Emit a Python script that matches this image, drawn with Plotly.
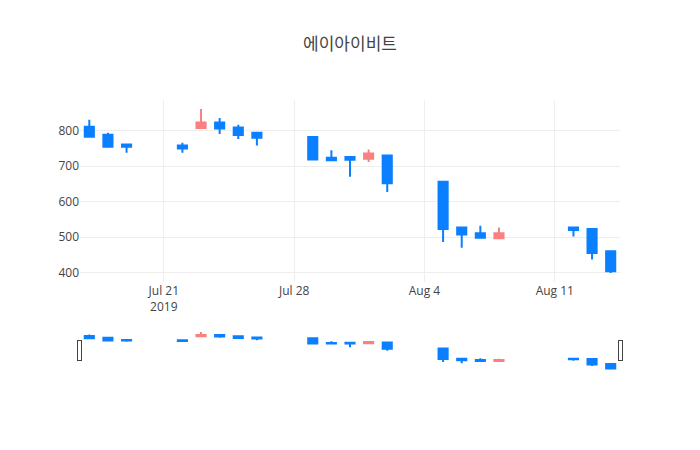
import plotly.graph_objects as go

dates = ["2019-07-17", "2019-07-18", "2019-07-19", "2019-07-22", "2019-07-23",
         "2019-07-24", "2019-07-25", "2019-07-26", "2019-07-29", "2019-07-30",
         "2019-07-31", "2019-08-01", "2019-08-02", "2019-08-05", "2019-08-06",
         "2019-08-07", "2019-08-08", "2019-08-12", "2019-08-13", "2019-08-14"]
opens  = [811, 789, 761, 758, 808, 823, 809, 794, 782, 724, 726, 721, 730, 656, 527, 511, 497, 527, 523, 460]
highs  = [831, 794, 764, 766, 861, 836, 817, 796, 783, 745, 728, 747, 730, 656, 527, 532, 527, 527, 525, 460]
lows   = [783, 752, 738, 738, 805, 791, 777, 758, 718, 717, 670, 712, 627, 486, 470, 495, 497, 502, 437, 399]
closes = [783, 755, 755, 750, 823, 806, 788, 780, 719, 717, 718, 736, 652, 523, 507, 498, 511, 520, 455, 404]

UP = "#FA8080"
DOWN = "#0A7FFF"

fig = go.Figure(go.Candlestick(
    x=dates, open=opens, high=highs, low=lows, close=closes,
    increasing=dict(line=dict(color=UP), fillcolor=UP),
    decreasing=dict(line=dict(color=DOWN), fillcolor=DOWN),
))
fig.update_layout(
    template="none",
    width=700, height=450,
    title=dict(text="에이아이비트", x=0.5),
    showlegend=False,
    font=dict(family="Open Sans, Noto Sans CJK KR, sans-serif"),
)
fig.write_html("out.html")
